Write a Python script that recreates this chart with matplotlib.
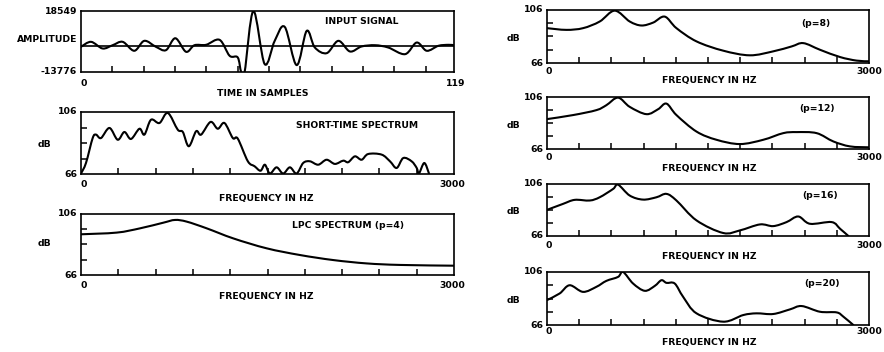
import matplotlib
matplotlib.use("Agg")
import matplotlib.pyplot as plt
from matplotlib.path import Path
from matplotlib.patches import PathPatch
import numpy as np

plt.rcParams['font.family'] = ['DejaVu Sans']
plt.rcParams['font.weight'] = 'bold'

# ---------------- data ----------------
sig_t = [0, 3.2, 6.9, 10.1, 13.3, 17.0, 20.2, 23.9, 27.1, 30.1, 33.5, 36.2, 39.9,
         44.2, 47.4, 50.0, 51.1, 52.2, 55.0, 58.6, 61.8, 65.0, 68.8, 72.0, 74.6,
         78.4, 82.1, 85.8, 89.5, 93.8, 98.0, 103.4, 107.1, 110.3, 114.0, 117.2, 119]
sig_a = [-420, 2210, -1320, 420, 2210, -2530, 2740, -420, -2210, 4110, -3060, 420, 630,
         3270, -5160, -6060, -13776, -13776, 18549, -9590, 2740, 10120, -10120, 8010, -790,
         -3790, 2740, -2900, -260, 420, -790, -4320, 1840, -2530, 100, 630, 420]

sts_f = [0, 40, 94, 121, 161, 229, 295, 349, 402, 470, 510, 563, 631, 698, 778, 819,
         867, 926, 966, 1042, 1100, 1154, 1221, 1261, 1342, 1396, 1444, 1479, 1519,
         1573, 1626, 1680, 1734, 1787, 1841, 1908, 1975, 2042, 2109, 2149, 2203, 2257,
         2310, 2418, 2485, 2539, 2592, 2659, 2700, 2718, 2761, 2799]
sts_db = [66.3, 73.1, 89.2, 91.4, 89.2, 95.7, 88.1, 93.1, 88.6, 95.2, 91.4, 101.0,
          98.9, 105.4, 94.6, 93.1, 83.9, 93.6, 91.4, 99.6, 95.2, 98.9, 89.2, 88.8,
          74.2, 71.0, 68.1, 72.0, 66.3, 70.3, 66.3, 70.3, 66.3, 73.1, 74.2, 72.0,
          75.2, 72.5, 74.6, 73.6, 77.4, 75.2, 78.9, 78.5, 74.2, 69.9, 76.3, 74.2,
          69.9, 66.3, 73.1, 66.3]

p4_f = [0, 287, 475, 662, 756, 850, 1011, 1225, 1493, 1761, 2029, 2297, 2565, 3000]
p4_db = [92.7, 93.8, 96.6, 100.3, 102.1, 101.0, 96.6, 90.0, 83.5, 79.1, 75.8, 73.6, 72.6, 72.1]

p8_f = [0, 180, 336, 491, 631, 771, 880, 989, 1097, 1206, 1393, 1642, 1890, 2108,
        2279, 2388, 2543, 2730, 2885, 3000]
p8_db = [92.3, 91.0, 92.3, 97.3, 105.5, 97.3, 94.3, 96.5, 101.0, 92.3, 82.3, 75.3,
         71.8, 74.8, 78.5, 81.0, 76.0, 70.5, 67.8, 67.3]

p12_f = [0, 243, 460, 553, 662, 771, 926, 1035, 1113, 1206, 1393, 1579, 1797, 2015,
         2201, 2326, 2512, 2668, 2823, 3000]
p12_db = [89.0, 92.1, 95.9, 99.7, 105.5, 98.4, 92.8, 96.6, 100.9, 92.1, 79.4, 73.1,
          69.8, 73.1, 78.2, 79.0, 78.2, 71.8, 68.0, 67.3]

p16_f = [0, 149, 258, 398, 491, 616, 662, 771, 895, 1020, 1113, 1206, 1393, 1642,
         1797, 1984, 2108, 2232, 2341, 2450, 2652, 2730, 2808]
p16_db = [86.1, 90.7, 93.8, 93.3, 95.8, 102.2, 105.5, 97.1, 94.0, 95.8, 98.4, 93.3,
          78.0, 68.3, 70.3, 74.9, 73.6, 76.7, 81.0, 75.4, 76.7, 71.6, 66.0]

p20_f = [0, 118, 211, 336, 460, 553, 662, 709, 802, 911, 1004, 1066, 1113, 1190,
         1268, 1393, 1642, 1828, 1952, 2108, 2264, 2373, 2543, 2699, 2761, 2854]
p20_db = [84.8, 89.8, 96.0, 91.0, 94.8, 99.3, 102.3, 106.0, 97.3, 91.8, 95.5, 99.8,
          97.8, 97.3, 87.3, 74.8, 68.5, 73.5, 74.8, 74.3, 77.8, 80.3, 76.0, 75.5,
          72.3, 66.0]

right_labels = ["(p=8)", "(p=12)", "(p=16)", "(p=20)"]

# ---------------- figure ----------------
W, H = 884, 352
fig = plt.figure(figsize=(W / 100, H / 100), dpi=100)
fig.patch.set_facecolor('white')

LW = 1.5
FS = 6.7


def px_axes(l, t, r, b):
    return fig.add_axes([l / W, 1 - b / H, (r - l) / W, (b - t) / H])


def ftext(x, y, s, ha='center', fs=FS):
    fig.text(x / W, 1 - y / H, s, ha=ha, va='center', fontsize=fs,
             fontweight='bold', color='black')


def smooth_curve(ax, x, y):
    """Draw a smooth curve through every read point (Catmull-Rom as Bezier)."""
    x = np.asarray(x, float)
    y = np.asarray(y, float)
    pts = np.column_stack([x, y])
    n = len(pts)
    verts = [pts[0]]
    codes = [Path.MOVETO]
    for i in range(n - 1):
        p0 = pts[i - 1] if i > 0 else pts[i]
        p1 = pts[i]
        p2 = pts[i + 1]
        p3 = pts[i + 2] if i + 2 < n else pts[i + 1]
        c1 = p1 + (p2 - p0) / 6.0
        c2 = p2 - (p3 - p1) / 6.0
        verts += [c1, c2, p2]
        codes += [Path.CURVE4] * 3
    patch = PathPatch(Path(verts, codes), facecolor='none', edgecolor='black',
                      lw=LW, joinstyle='round', capstyle='round',
                      transform=ax.transData)
    ax.add_patch(patch)


def style(ax, xmax, xstep, ymin, ymax, ystep):
    ax.set_xlim(0, xmax)
    ax.set_ylim(ymin, ymax)
    for sp in ax.spines.values():
        sp.set_linewidth(1.2)
    ax.set_xticks(np.arange(xstep, xmax - 1e-6, xstep))
    if ystep:
        ax.set_yticks(np.arange(ymin + ystep, ymax - 1e-6, ystep))
    else:
        ax.set_yticks([])
    ax.tick_params(direction='in', length=4, width=1.1, labelbottom=False,
                   labelleft=False, bottom=True, left=bool(ystep))


# ---- left panel 1: input signal
ax = px_axes(81, 11, 454, 72)
smooth_curve(ax, sig_t, sig_a)
ax.axhline(0, color='black', lw=1.2)
style(ax, 119, 10, -13776, 18549, None)
ftext(77, 11, "18549", ha='right')
ftext(77, 72, "-13776", ha='right')
ftext(47, 39, "AMPLITUDE")
ftext(84, 83, "0")
ftext(456, 83, "119")
ftext(263, 93, "TIME IN SAMPLES")
ftext(362, 21, "INPUT SIGNAL")

# ---- left panel 2: short-time spectrum
ax = px_axes(81, 112, 454, 174)
smooth_curve(ax, sts_f, sts_db)
style(ax, 3000, 300, 66, 106, 10)
ftext(77, 112, "106", ha='right')
ftext(77, 174, "66", ha='right')
ftext(44, 144, "dB")
ftext(84, 185, "0")
ftext(452, 185, "3000")
ftext(266, 198, "FREQUENCY IN HZ")
ftext(357, 126, "SHORT-TIME SPECTRUM")

# ---- left panel 3: LPC p=4
ax = px_axes(81, 214, 454, 275)
smooth_curve(ax, p4_f, p4_db)
style(ax, 3000, 300, 66, 106, 10)
ftext(77, 214, "106", ha='right')
ftext(77, 275, "66", ha='right')
ftext(44, 244, "dB")
ftext(84, 285, "0")
ftext(452, 285, "3000")
ftext(266, 296, "FREQUENCY IN HZ")
ftext(348, 226, "LPC SPECTRUM (p=4)")

# ---- right panels
right_data = [(p8_f, p8_db), (p12_f, p12_db), (p16_f, p16_db), (p20_f, p20_db)]
boxes = [(10, 63), (97, 149), (184, 236), (272, 325)]
lab_y = [(71, 81, 23), (158, 168, 108), (246, 256, 195), (332, 342, 283)]
lab_x = [816, 817, 820, 822]
for (f, d), (t, b), (y0, yx, yl), lx, lab in zip(right_data, boxes, lab_y, lab_x, right_labels):
    ax = px_axes(547, t, 869, b)
    smooth_curve(ax, f, d)
    style(ax, 3000, 300, 66, 106, 10)
    ftext(543, t, "106", ha='right')
    ftext(543, b, "66", ha='right')
    ftext(513, (t + b) / 2 + 2, "dB")
    ftext(549, y0, "0")
    ftext(869, y0, "3000")
    ftext(709, yx, "FREQUENCY IN HZ")
    ftext(lx, yl, lab)

fig.savefig("out.png", dpi=100, facecolor='white')
